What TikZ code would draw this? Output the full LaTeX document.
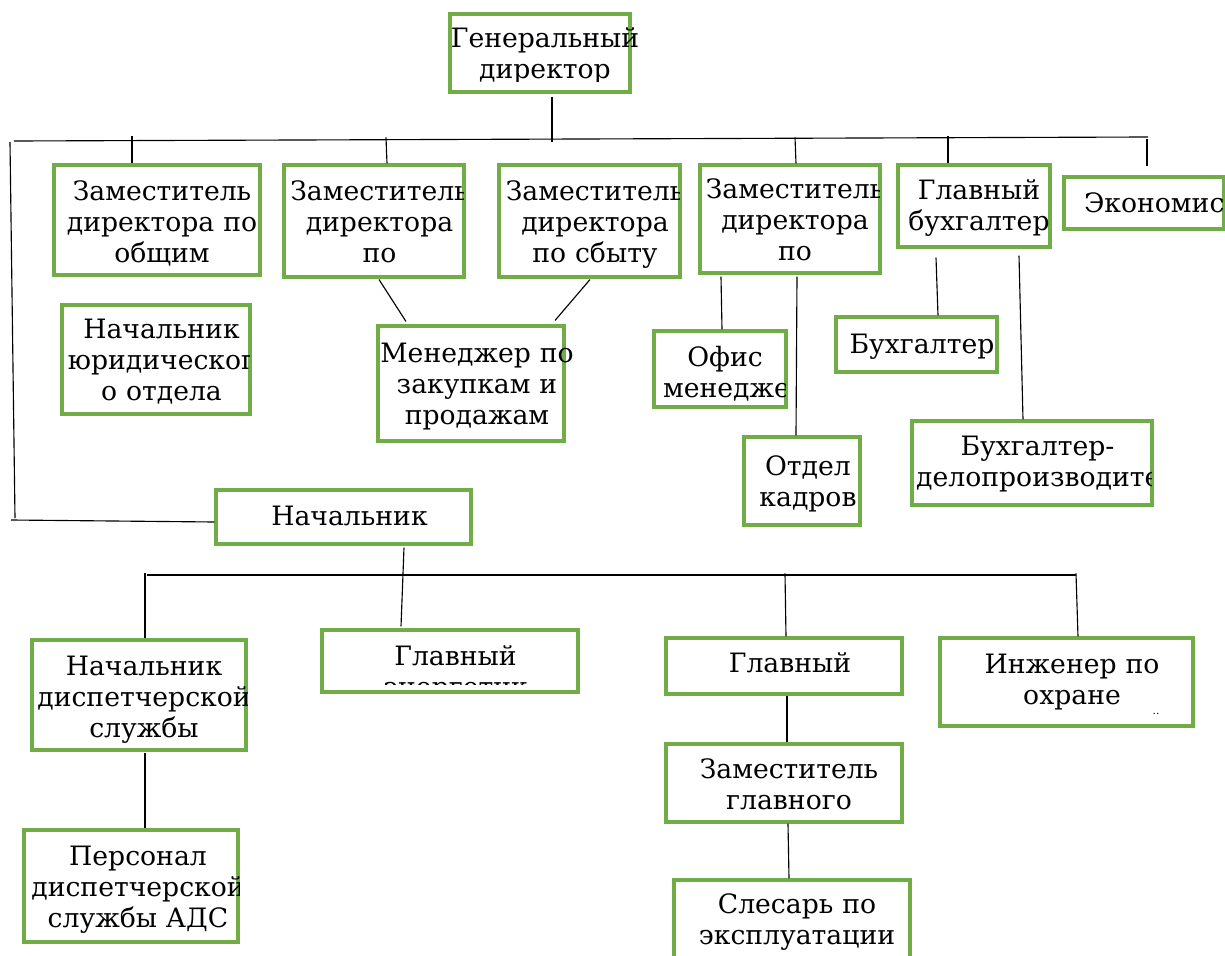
\documentclass[tikz,border=0pt]{standalone}
\usepackage{fontspec}
\setmainfont{DejaVu Serif}
\usetikzlibrary{fit,calc}
\definecolor{bgreen}{HTML}{70AD47}
\tikzset{
  gbox/.style={draw=bgreen, line width=2.3pt, inner sep=0pt},
  txt/.style={font=\fontsize{20pt}{23.25pt}\selectfont, inner sep=0pt, align=center, anchor=base, text width=#1},
  txt/.default=240pt,
  conn/.style={draw=black, line width=0.85pt},
}
\newcommand\boxlabel[6]{\begin{scope}\clip #2 rectangle #3;\node[txt=#5] (#1) at #4 {#6};\end{scope}}
\begin{document}
\begin{tikzpicture}[x=0.75pt,y=-0.75pt]
\useasboundingbox (0,0) rectangle (1225,956);
% boxes
\node[gbox, fit={(450,14)(630,92)}] (gd) {};
\node[gbox, fit={(54,165)(260,275)}] (zam1) {};
\node[gbox, fit={(284,165)(464,277)}] (zam2) {};
\node[gbox, fit={(499,165)(680,277)}] (zam3) {};
\node[gbox, fit={(700,165)(880,273)}] (zam4) {};
\node[gbox, fit={(898,165)(1050,247)}] (glbuh) {};
\node[gbox, fit={(1064,177)(1224,229)}] (econ) {};
\node[gbox, fit={(62,305)(250,414)}] (nachyur) {};
\node[gbox, fit={(378,326)(564,441)}] (men) {};
\node[gbox, fit={(654,331)(786,407)}] (ofis) {};
\node[gbox, fit={(744,437)(860,525)}] (kadry) {};
\node[gbox, fit={(836,317)(997,372)}] (buh) {};
\node[gbox, fit={(912,421)(1152,505)}] (buhdel) {};
\node[gbox, fit={(216,490)(471,544)}] (nach) {};
\node[gbox, fit={(32,640)(246,750)}] (nachdisp) {};
\node[gbox, fit={(24,830)(238,942)}] (pers) {};
\node[gbox, fit={(322,630)(578,692)}] (glen) {};
\node[gbox, fit={(666,638)(902,694)}] (glinzh) {};
\node[gbox, fit={(666,744)(902,822)}] (zamgl) {};
\node[gbox, fit={(940,638)(1193,726)}] (inzh) {};
\node[gbox, fit={(674,880)(910,990)}] (slesar) {};
% texts
\boxlabel{gd-t}{(440,14)}{(650,82)}{(545,48)}{240pt}{Генеральный\\директор}
\boxlabel{zam1-t}{(zam1.north west)}{(zam1.south east)}{(162,200)}{240pt}{Заместитель\\директора~по\\общим}
\boxlabel{zam2-t}{(zam2.north west)}{(463,277)}{(379.5,200)}{240pt}{Заместитель\\директора\\по}
\boxlabel{zam3-t}{(zam3.north west)}{(679,277)}{(595,200)}{240pt}{Заместитель\\директора\\по~сбыту}
\boxlabel{zam4-t}{(zam4.north west)}{(879,273)}{(795,198)}{240pt}{Заместитель\\директора\\по}
\boxlabel{glbuh-t}{(glbuh.north west)}{(1049,247)}{(979,199)}{240pt}{Главный\\бухгалтер}
\boxlabel{econ-t}{(econ.north west)}{(1223,229)}{(1144,212)}{90pt}{Экономист}
\boxlabel{nachyur-t}{(nachyur.north west)}{(249,414)}{(161.5,338)}{240pt}{Начальник\\юридическог\\о~отдела}
\boxlabel{men-t}{(370,326)}{(590,441)}{(477,362)}{240pt}{Менеджер~по\\закупкам~и\\продажам}
\boxlabel{ofis-t}{(ofis.north west)}{(785,407)}{(725,366)}{93pt}{Офис\\менеджер}
\boxlabel{kadry-t}{(kadry.north west)}{(kadry.south east)}{(808,475)}{240pt}{Отдел\\кадров}
\boxlabel{buh-t}{(buh.north west)}{(buh.south east)}{(922,353)}{240pt}{Бухгалтер}
\boxlabel{buhdel-t}{(buhdel.north west)}{(1151,505)}{(1037.5,455)}{182pt}{Бухгалтер-\\делопроизводитель}
\boxlabel{nach-t}{(nach.north west)}{(nach.south east)}{(349.5,525)}{240pt}{Начальник}
\boxlabel{nachdisp-t}{(nachdisp.north west)}{(247,750)}{(144,675)}{240pt}{Начальник\\диспетчерской\\службы}
\boxlabel{pers-t}{(pers.north west)}{(pers.south east)}{(138,865)}{240pt}{Персонал\\диспетчерской\\службы~АДС}
\boxlabel{glen-t}{(glen.north west)}{(578,684)}{(455.5,665)}{240pt}{Главный\\энергетик}
\boxlabel{glinzh-t}{(glinzh.north west)}{(glinzh.south east)}{(790,672)}{240pt}{Главный}
\boxlabel{zamgl-t}{(zamgl.north west)}{(zamgl.south east)}{(789,778)}{240pt}{Заместитель\\главного}
\boxlabel{inzh-t}{(inzh.north west)}{(inzh.south east)}{(1072,673)}{240pt}{Инженер~по\\охране}
\boxlabel{slesar-t}{(slesar.north west)}{(slesar.south east)}{(797,913)}{240pt}{Слесарь~по\\эксплуатации}
\node[font=\fontsize{8pt}{8pt}\selectfont, inner sep=0pt, anchor=north] (dots) at (1156,713) {..};
% bus coordinates
\coordinate (busL) at (14,141);
\coordinate (busR) at (1148,137);
\coordinate (vtop) at (10,142);
\coordinate (vbot) at (15,518);
\coordinate (hL) at (11,520);
\coordinate (b2L) at (147,575);
\coordinate (b2R) at (1076,575);
% connectors
\draw[conn] (busL) -- (busR);
\draw[conn] (vtop) -- (vbot);
\draw[conn] (hL) -- ($(nach.west)+(0,5)$);
\draw[conn] ($(gd.south)+(12,3)$) -- ($(gd.south)+(12,48)$);
\draw[conn] ($(zam1.north)+(-25,-27)$) -- ($(zam1.north)+(-25,0)$);
\draw[conn] ($(zam2.north)+(12,-26)$) -- ($(zam2.north)+(13,0)$);
\draw[conn] ($(zam4.north)+(5,-26)$) -- ($(zam4.north)+(6,0)$);
\draw[conn] ($(glbuh.north)+(-26,-27)$) -- ($(glbuh.north)+(-26,0)$);
\draw[conn] ($(econ.north)+(3,-36)$) -- ($(econ.north)+(3,-9)$);
\draw[conn] ($(zam2.south)+(5,1)$) -- ($(men.north)+(-65,-3)$);
\draw[conn] ($(zam3.south)+(0.5,1)$) -- ($(men.north)+(84,-4)$);
\draw[conn] ($(zam4.south)+(-69,2)$) -- ($(ofis.north)+(2,0)$);
\draw[conn] ($(zam4.south)+(7,2)$) -- ($(kadry.north)+(-6,0)$);
\draw[conn] ($(glbuh.south)+(-38,9)$) -- ($(buh.north)+(21.5,0)$);
\draw[conn] ($(glbuh.south)+(45,7)$) -- ($(buhdel.north)+(-9,0)$);
\draw[conn] ($(nach.south)+(60.5,2)$) -- ($(glen.north)+(-49,-2)$);
\draw[conn] (b2L) -- (b2R);
\draw[conn] ($(nachdisp.north)+(6,-65)$) -- ($(nachdisp.north)+(6,0)$);
\draw[conn] ($(nachdisp.south)+(6,1)$) -- ($(pers.north)+(14,0)$);
\draw[conn] ($(glinzh.north)+(1,-63)$) -- ($(glinzh.north)+(2,0)$);
\draw[conn] ($(glinzh.south)+(3,0)$) -- ($(zamgl.north)+(3,0)$);
\draw[conn] ($(zamgl.south)+(4,0)$) -- ($(slesar.north)+(-3,0)$);
\draw[conn] ($(inzh.north)+(9.5,-63)$) -- ($(inzh.north)+(11.5,0)$);
\end{tikzpicture}
\end{document}
